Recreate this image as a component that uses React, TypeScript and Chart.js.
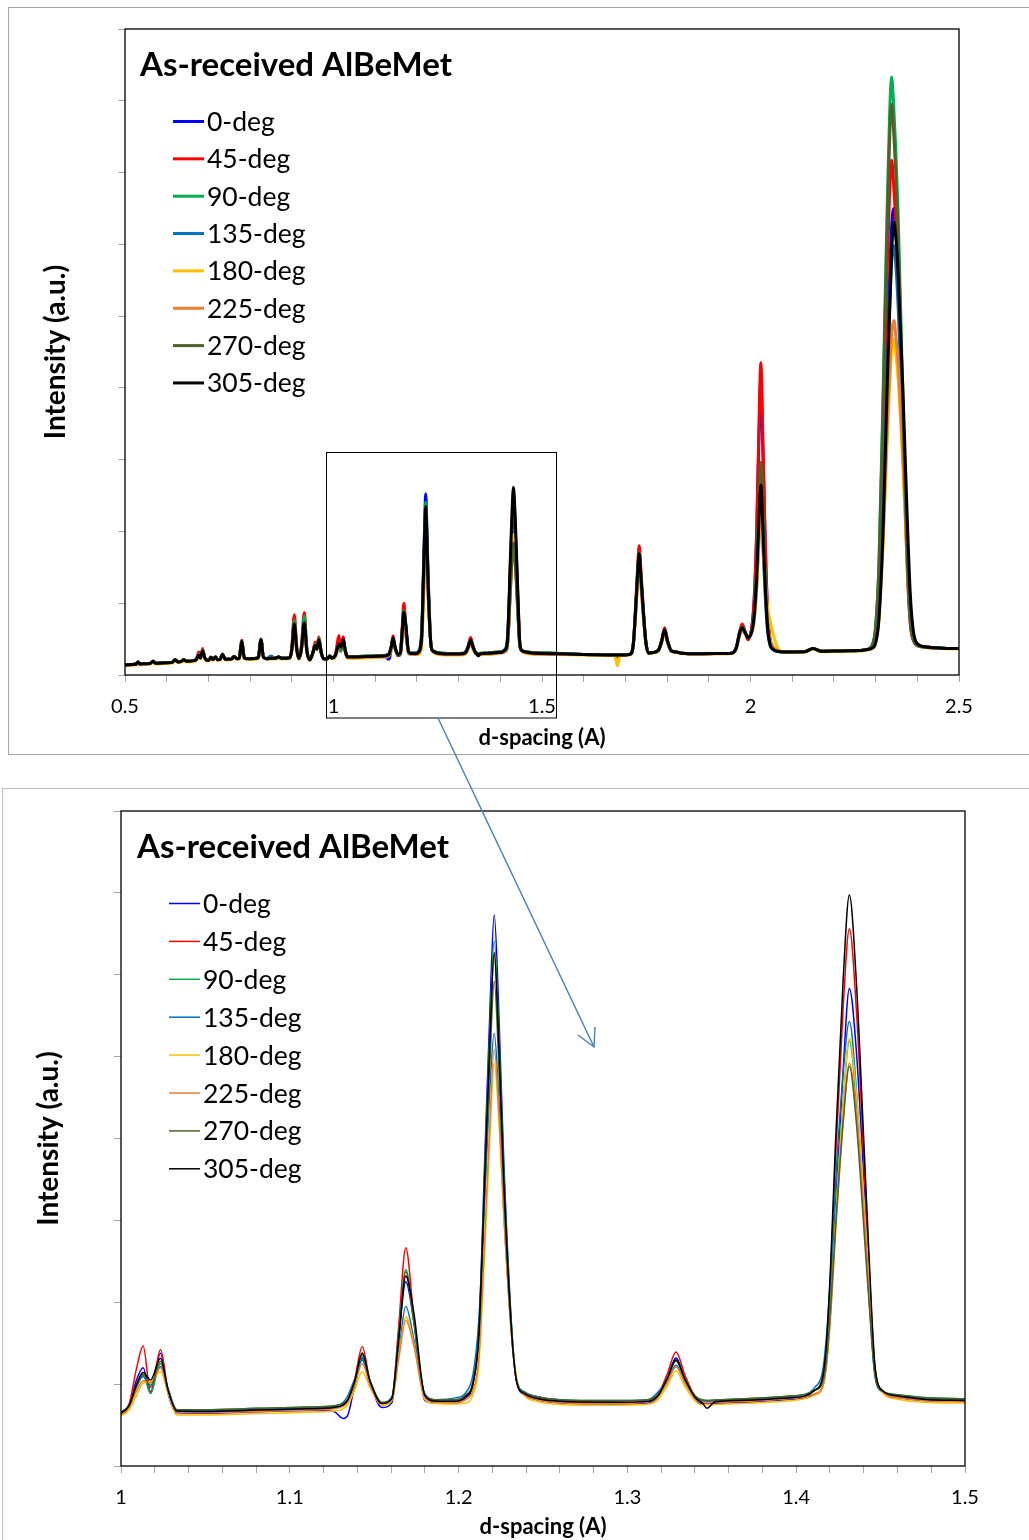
import React, { useEffect, useRef } from 'react';
import { Chart, registerables } from 'chart.js';

Chart.register(...registerables);

const seriesLabels = ['0-deg', '45-deg', '90-deg', '135-deg', '180-deg', '225-deg', '270-deg', '305-deg'];
const seriesColors = ['#0000FF', '#FF0000', '#00B050', '#0070C0', '#FFC000', '#ED7D31', '#4F6228', '#000000'];

// d-spacing (A) sample positions, shared by every series
const dSpacing = [
  0.500, 0.520, 0.526, 0.531, 0.536, 0.552, 0.560, 0.567, 0.574, 0.600, 0.613, 0.620, 0.627, 0.634, 0.641, 0.648, 0.665, 0.671,
  0.677, 0.681, 0.686, 0.691, 0.697, 0.702, 0.706, 0.711, 0.717, 0.722, 0.728, 0.734, 0.740, 0.755, 0.762, 0.768, 0.774,
  0.780, 0.786, 0.795, 0.815, 0.820, 0.826, 0.832, 0.840, 0.850, 0.860, 0.868, 0.876, 0.895,
  0.900, 0.906, 0.912, 0.917, 0.923, 0.930, 0.936, 0.943, 0.950, 0.956, 0.960, 0.965, 0.971, 0.977, 0.985, 0.991, 0.996,
  1.000, 1.005, 1.009, 1.0131, 1.0175, 1.0234, 1.028, 1.033, 1.050, 1.080, 1.110, 1.126,
  1.1317, 1.1345, 1.1385, 1.1429, 1.1475, 1.1545, 1.1605, 1.1645, 1.1687, 1.1735, 1.180, 1.186, 1.198,
  1.204, 1.2085, 1.212, 1.2155, 1.2185, 1.2211, 1.224, 1.2267, 1.2315, 1.2345, 1.239, 1.246, 1.260, 1.290,
  1.312, 1.318, 1.3235, 1.3288, 1.334, 1.340, 1.3445, 1.3471, 1.352, 1.375, 1.395,
  1.405, 1.411, 1.4155, 1.4178, 1.4205, 1.4232, 1.4278, 1.4315, 1.4356, 1.4402, 1.4432, 1.4465, 1.451, 1.460, 1.475, 1.500,
  1.530, 1.600, 1.660, 1.674, 1.681, 1.687, 1.700,
  1.712, 1.719, 1.725, 1.7295, 1.733, 1.7365, 1.742, 1.749, 1.756, 1.765, 1.779, 1.787, 1.794, 1.801, 1.810, 1.822, 1.835, 1.880, 1.940,
  1.955, 1.966, 1.973, 1.980, 1.987, 1.994, 2.004, 2.009, 2.0145, 2.0195, 2.0248, 2.030, 2.0355, 2.041, 2.047, 2.055, 2.065,
  2.080, 2.130, 2.150, 2.170, 2.220, 2.270, 2.280,
  2.292, 2.300, 2.308, 2.318, 2.328, 2.3385, 2.344, 2.348, 2.354, 2.365, 2.375, 2.383, 2.392, 2.405, 2.420, 2.460, 2.500,
];

const deg0 = [
  700, 740, 750, 900, 770, 790, 800, 950, 820, 860, 880, 1060, 910, 930, 1060, 950, 1000, 1080,
  1350, 1180, 1650, 1220, 1020, 1060, 1230, 1080, 1260, 1070, 1090, 1450, 1100, 1110, 1290, 1130, 1180,
  2350, 1200, 1130, 1160, 1240, 2450, 1240, 1140, 1300, 1160, 1260, 1160, 1200,
  1750, 3500, 1750, 1150, 1800, 3600, 1700, 1060, 1500, 2050, 1800, 2450, 1500, 1120, 1130, 1320, 1180,
  1180, 1380, 1950, 2250, 1660, 2580, 1650, 1220, 1210, 1240, 1270, 1250,
  1090, 1180, 1850, 2460, 1900, 1340, 1450, 2900, 4220, 3300, 1500, 1440, 1440,
  1550, 1890, 3120, 7030, 10380, 12620, 10170, 7040, 3130, 1910, 1630, 1520, 1440, 1420,
  1440, 1580, 2000, 2480, 2000, 1545, 1420, 1420, 1430, 1470, 1520,
  1560, 1635, 1795, 2310, 3716, 5873, 9060, 10935, 9523, 6510, 4345, 2273, 1708, 1567, 1500, 1480,
  1460, 1430, 1400, 1390, 1250, 1390, 1400,
  1450, 2135, 4738, 7067, 8300, 7067, 4738, 2272, 1518, 1560, 1714, 2330, 3100, 2330, 1683, 1600, 1520, 1480, 1500,
  1520, 1900, 2800, 3400, 2950, 2550, 3495, 5285, 9402, 15488, 20500, 15222, 8813, 4289, 2404, 1839, 1650,
  1600, 1620, 1850, 1650, 1680, 1720, 1780,
  1903, 2456, 4852, 12225, 22670, 31271, 32500, 31276, 27910, 18730, 9550, 4654, 2573, 2053, 1950, 1870, 1850,
];

const deg45 = [
  700, 740, 750, 900, 770, 790, 800, 950, 820, 860, 880, 1060, 910, 930, 1060, 950, 1000, 1080,
  1600, 1180, 1850, 1220, 1020, 1060, 1230, 1080, 1260, 1070, 1090, 1450, 1100, 1110, 1290, 1130, 1180,
  2420, 1200, 1130, 1160, 1240, 2500, 1240, 1140, 1170, 1160, 1260, 1160, 1200,
  1950, 4200, 1950, 1150, 2050, 4350, 1900, 1060, 1500, 2300, 2000, 2650, 1500, 1120, 1130, 1320, 1180,
  1210, 1450, 2200, 2750, 1700, 2660, 1700, 1250, 1250, 1280, 1310, 1340,
  1400, 1520, 2000, 2730, 1950, 1400, 1550, 3200, 5000, 3400, 1600, 1480, 1480,
  1580, 1890, 3015, 6595, 9665, 11710, 9460, 6605, 3030, 1910, 1650, 1550, 1480, 1450,
  1480, 1630, 2095, 2610, 2090, 1600, 1460, 1460, 1470, 1510, 1560,
  1600, 1728, 1975, 2670, 4490, 6950, 10485, 12305, 10478, 6932, 4569, 2312, 1721, 1603, 1540, 1520,
  1490, 1430, 1400, 1390, 1390, 1390, 1400,
  1450, 2205, 5074, 7641, 9000, 7641, 5074, 2356, 1525, 1560, 1734, 2430, 3300, 2430, 1699, 1600, 1520, 1480, 1500,
  1520, 1900, 2950, 3550, 3050, 2450, 3558, 5473, 9877, 16388, 21750, 16122, 9288, 4464, 2454, 1851, 1650,
  1600, 1620, 1850, 1650, 1680, 1720, 1780,
  2053, 3143, 6892, 17116, 28362, 35860, 33822, 31785, 27710, 17182, 8013, 3598, 2308, 2002, 1950, 1870, 1850,
];

const deg90 = [
  700, 740, 750, 900, 770, 790, 800, 950, 820, 860, 880, 1060, 910, 930, 1060, 950, 1000, 1080,
  1450, 1180, 1750, 1220, 1020, 1060, 1230, 1080, 1260, 1070, 1090, 1450, 1100, 1110, 1290, 1130, 1180,
  2350, 1200, 1130, 1160, 1240, 2450, 1240, 1140, 1170, 1160, 1260, 1160, 1200,
  1800, 3800, 1800, 1150, 1900, 4100, 1800, 1060, 1500, 2150, 1850, 2550, 1500, 1120, 1130, 1320, 1180,
  1240, 1400, 1800, 2080, 1660, 2350, 1750, 1290, 1290, 1320, 1350, 1380,
  1430, 1540, 1950, 2500, 1950, 1440, 1560, 3000, 4500, 3300, 1620, 1520, 1520,
  1625, 1940, 3095, 6775, 9930, 12030, 9720, 6785, 3115, 1960, 1700, 1590, 1520, 1500,
  1520, 1635, 1995, 2400, 1995, 1610, 1510, 1500, 1510, 1550, 1600,
  1640, 1737, 1923, 2449, 3823, 5683, 8351, 9725, 8344, 5663, 3875, 2169, 1722, 1633, 1570, 1540,
  1510, 1430, 1400, 1390, 1390, 1390, 1400,
  1450, 2155, 4834, 7231, 8500, 7231, 4834, 2296, 1520, 1560, 1719, 2355, 3150, 2355, 1687, 1600, 1520, 1480, 1500,
  1520, 1900, 2800, 3350, 2950, 2600, 3160, 4280, 6856, 10664, 13800, 10398, 6267, 3351, 2136, 1772, 1650,
  1600, 1620, 1850, 1650, 1680, 1720, 1780,
  2099, 3375, 7760, 19722, 32879, 41650, 39265, 36880, 32110, 19788, 9055, 3888, 2377, 2019, 1950, 1870, 1850,
];

const deg135 = [
  700, 740, 750, 900, 770, 790, 800, 950, 820, 860, 880, 1060, 910, 930, 1060, 950, 1000, 1080,
  1380, 1180, 1680, 1220, 1020, 1060, 1230, 1080, 1260, 1070, 1090, 1450, 1100, 1110, 1290, 1130, 1180,
  2350, 1200, 1130, 1160, 1240, 2450, 1240, 1140, 1300, 1160, 1260, 1160, 1200,
  1700, 3400, 1700, 1150, 1750, 3500, 1650, 1060, 1500, 2000, 1780, 2400, 1500, 1120, 1130, 1320, 1180,
  1230, 1400, 1800, 2050, 1850, 2280, 1750, 1280, 1270, 1300, 1330, 1360,
  1460, 1620, 2000, 2420, 1950, 1450, 1580, 2600, 3650, 2900, 1650, 1520, 1560,
  1670, 2090, 3350, 6125, 8650, 9910, 8230, 5880, 2945, 1940, 1690, 1590, 1510, 1490,
  1510, 1690, 1955, 2310, 1935, 1580, 1500, 1490, 1500, 1540, 1590,
  1630, 1801, 2143, 2913, 4452, 6418, 8983, 10180, 8632, 5708, 3816, 2096, 1700, 1614, 1550, 1520,
  1500, 1430, 1400, 1390, 1390, 1390, 1400,
  1450, 2105, 4594, 6821, 8000, 6821, 4594, 2236, 1515, 1560, 1709, 2305, 3050, 2305, 1679, 1600, 1520, 1480, 1500,
  1520, 1900, 2750, 3250, 2900, 2650, 3045, 3935, 5982, 9008, 11500, 8742, 5393, 3029, 2044, 1749, 1650,
  1600, 1620, 1850, 1650, 1680, 1720, 1780,
  1892, 2399, 4592, 11341, 20902, 28775, 29900, 28780, 25700, 17300, 8900, 4420, 2516, 2040, 1950, 1870, 1850,
];

const deg180 = [
  650, 690, 700, 850, 720, 740, 750, 900, 770, 810, 830, 1010, 860, 880, 1010, 900, 950, 1030,
  1330, 1130, 1630, 1170, 970, 1010, 1180, 1030, 1210, 1020, 1040, 1400, 1050, 1060, 1240, 1080, 1130,
  2300, 1150, 1080, 1110, 1190, 2400, 1190, 1090, 1120, 1110, 1210, 1110, 1150,
  1650, 3300, 1650, 1100, 1700, 3400, 1600, 1010, 1450, 1950, 1750, 2350, 1450, 1070, 1080, 1270, 1130,
  1150, 1300, 1600, 1900, 1930, 2160, 1650, 1170, 1170, 1200, 1230, 1260,
  1310, 1420, 1750, 2160, 1800, 1400, 1500, 2500, 3420, 2800, 1520, 1430, 1420,
  1440, 1635, 2340, 4920, 7500, 9220, 7815, 5790, 2980, 1965, 1615, 1480, 1410, 1390,
  1415, 1515, 1825, 2175, 1825, 1495, 1400, 1400, 1410, 1440, 1490,
  1540, 1623, 1788, 2283, 3604, 5502, 8309, 9795, 8548, 6053, 4224, 2312, 1688, 1530, 1460, 1440,
  1420, 1390, 1360, 1350, 650, 1350, 1360,
  1420, 2065, 4402, 6493, 7600, 6493, 4402, 2188, 1512, 1530, 1699, 2255, 2950, 2255, 1671, 1570, 1490, 1450, 1470,
  1490, 1850, 2650, 3100, 2850, 2750, 3040, 3920, 5944, 8936, 11400, 9200, 6600, 4700, 3800, 2800, 1900,
  1570, 1590, 1820, 1620, 1650, 1690, 1750,
  1866, 2256, 3942, 9131, 16482, 22535, 23400, 22540, 20605, 14800, 8350, 4480, 2653, 2072, 1920, 1840, 1820,
];

const deg225 = [
  700, 740, 750, 900, 770, 790, 800, 950, 820, 860, 880, 1060, 910, 930, 1060, 950, 1000, 1080,
  1380, 1180, 1680, 1220, 1020, 1060, 1230, 1080, 1260, 1070, 1090, 1450, 1100, 1110, 1290, 1130, 1180,
  2350, 1200, 1130, 1160, 1240, 2450, 1240, 1140, 1170, 1160, 1260, 1160, 1200,
  1700, 3400, 1700, 1150, 1750, 3450, 1650, 1060, 1500, 2000, 1780, 2400, 1500, 1120, 1130, 1320, 1180,
  1190, 1350, 1700, 1950, 1900, 2250, 1700, 1230, 1220, 1250, 1280, 1310,
  1370, 1480, 1850, 2350, 1850, 1430, 1520, 2450, 3340, 2750, 1560, 1470, 1460,
  1515, 1735, 2500, 5250, 7840, 9540, 8005, 5830, 2925, 1955, 1630, 1525, 1450, 1430,
  1465, 1575, 1900, 2270, 1900, 1550, 1450, 1450, 1460, 1490, 1540,
  1580, 1656, 1809, 2268, 3491, 5250, 7849, 9225, 8069, 5758, 4063, 2291, 1713, 1566, 1500, 1470,
  1450, 1430, 1400, 1390, 1390, 1390, 1400,
  1450, 2085, 4498, 6657, 7800, 6657, 4498, 2212, 1514, 1560, 1704, 2280, 3000, 2280, 1675, 1600, 1520, 1480, 1500,
  1520, 1900, 2700, 3200, 2900, 2700, 3070, 4010, 6172, 9368, 12000, 9300, 6000, 3700, 2500, 1950, 1700,
  1600, 1620, 1850, 1650, 1680, 1720, 1780,
  1872, 2284, 4072, 9573, 17366, 23783, 24700, 23788, 21736, 15580, 8740, 4636, 2698, 2082, 1950, 1870, 1850,
];

const deg270 = [
  700, 740, 750, 900, 770, 790, 800, 950, 820, 860, 880, 1060, 910, 930, 1060, 950, 1000, 1080,
  1400, 1180, 1700, 1220, 1020, 1060, 1230, 1080, 1260, 1070, 1090, 1450, 1100, 1110, 1290, 1130, 1180,
  2350, 1200, 1130, 1160, 1240, 2450, 1240, 1140, 1170, 1160, 1260, 1160, 1200,
  1750, 3600, 1750, 1150, 1800, 3700, 1700, 1060, 1500, 2050, 1800, 2450, 1500, 1120, 1130, 1320, 1180,
  1240, 1400, 1800, 2100, 1800, 2400, 1750, 1290, 1290, 1320, 1350, 1380,
  1430, 1540, 1950, 2550, 1950, 1460, 1560, 3000, 4450, 3300, 1620, 1520, 1520,
  1615, 1905, 2955, 6310, 9185, 11100, 8995, 6320, 2975, 1920, 1685, 1590, 1520, 1500,
  1520, 1640, 2005, 2420, 2005, 1610, 1510, 1500, 1510, 1550, 1600,
  1640, 1730, 1903, 2392, 3669, 5398, 7877, 9155, 7871, 5378, 3715, 2129, 1713, 1630, 1570, 1540,
  1510, 1430, 1400, 1390, 1390, 1390, 1400,
  1450, 2155, 4834, 7231, 8500, 7231, 4834, 2296, 1520, 1560, 1719, 2355, 3150, 2355, 1687, 1600, 1520, 1480, 1500,
  1520, 1900, 2800, 3350, 2950, 2650, 3210, 4430, 7236, 11384, 14800, 11118, 6647, 3491, 2176, 1782, 1650,
  1600, 1620, 1850, 1650, 1680, 1720, 1780,
  2084, 3300, 7479, 18876, 31412, 39770, 37498, 35226, 30681, 18942, 8717, 3794, 2354, 2014, 1950, 1870, 1850,
];

const deg305 = [
  700, 740, 750, 900, 770, 790, 800, 950, 820, 860, 880, 1060, 910, 930, 1060, 950, 1000, 1080,
  1380, 1180, 1680, 1220, 1020, 1060, 1230, 1080, 1260, 1070, 1090, 1450, 1100, 1110, 1290, 1130, 1180,
  2350, 1200, 1130, 1160, 1240, 2450, 1240, 1140, 1170, 1160, 1260, 1160, 1200,
  1750, 3550, 1750, 1150, 1800, 3620, 1700, 1060, 1500, 2050, 1800, 2450, 1500, 1120, 1130, 1320, 1180,
  1210, 1400, 1850, 2140, 1970, 2465, 1720, 1260, 1250, 1280, 1310, 1340,
  1400, 1520, 1950, 2590, 1950, 1430, 1550, 2900, 4350, 3500, 1620, 1490, 1480,
  1585, 1890, 3020, 6620, 9705, 11760, 9505, 6630, 3040, 1910, 1655, 1550, 1480, 1460,
  1480, 1605, 1995, 2435, 1995, 1575, 1440, 1320, 1470, 1510, 1560,
  1600, 1738, 2002, 2748, 4698, 7338, 11124, 13075, 11117, 7318, 4784, 2366, 1733, 1606, 1530, 1500,
  1480, 1430, 1400, 1390, 1390, 1390, 1400,
  1450, 2150, 4810, 7190, 8450, 7190, 4810, 2290, 1520, 1560, 1719, 2355, 3150, 2355, 1687, 1600, 1520, 1480, 1500,
  1520, 1900, 2800, 3300, 2950, 2600, 3132, 4196, 6643, 10261, 13240, 9995, 6054, 3273, 2114, 1766, 1650,
  1600, 1620, 1850, 1650, 1680, 1720, 1780,
  1869, 2227, 3864, 10116, 20237, 29466, 31550, 30660, 27992, 20283, 11685, 5755, 2790, 2078, 1950, 1870, 1850,
];

const intensitySeries = [deg0, deg45, deg90, deg135, deg180, deg225, deg270, deg305];

const FONT = 'Lato, "Open Sans", sans-serif';

// frame round the plot area, the in-plot title and the legend
const panelDecor = {
  id: 'panelDecor',
  afterDatasetsDraw(chart: any, _args: any, opts: any) {
    const { ctx, chartArea: a } = chart;
    ctx.save();
    ctx.strokeStyle = '#000';
    ctx.lineWidth = 1.3;
    ctx.strokeRect(a.left, a.top, a.right - a.left, a.bottom - a.top);

    ctx.fillStyle = '#000';
    ctx.font = `bold 33px ${FONT}`;
    ctx.textBaseline = 'alphabetic';
    ctx.fillText(opts.title, a.left + opts.titleX, a.top + 47);

    ctx.font = `26.5px ${FONT}`;
    ctx.textBaseline = 'middle';
    chart.data.datasets.forEach((ds: any, i: number) => {
      const y = a.top + 92.5 + i * opts.rowGap;
      ctx.strokeStyle = ds.borderColor;
      ctx.lineWidth = opts.keyWidth;
      ctx.beginPath();
      ctx.moveTo(a.left + 48, y);
      ctx.lineTo(a.left + 79, y);
      ctx.stroke();
      ctx.fillText(ds.label, a.left + 82, y + 1);
    });
    ctx.restore();
  },
};

interface PanelProps {
  top: number;
  xMin: number;
  xMax: number;
  xStep: number;
  labelEvery: number;
  yMax: number;
  yStep: number;
  lineWidth: number;
  padTop: number;
  padRight: number;
  yWidth: number;
  xHeight: number;
  xTitlePad: number;
  yTitlePad: number;
  titleX: number;
  rowGap: number;
}

const DiffractionPanel: React.FC<PanelProps> = (p) => {
  const canvasRef = useRef<HTMLCanvasElement>(null);

  useEffect(() => {
    if (!canvasRef.current) return;
    const ctx = canvasRef.current.getContext('2d');
    if (!ctx) return;

    const datasets = intensitySeries.map((values, i) => ({
      label: seriesLabels[i],
      data: dSpacing.map((d, j) => ({ x: d, y: values[j] })),
      borderColor: seriesColors[i],
      backgroundColor: seriesColors[i],
      borderWidth: p.lineWidth,
      pointRadius: 0,
      cubicInterpolationMode: 'monotone' as const,
      fill: false,
      order: seriesLabels.length - 1 - i,
    }));

    const gridOpts = { drawOnChartArea: false, drawTicks: true, tickLength: 7, color: '#a6a6a6', lineWidth: 1 };

    const chart = new Chart(ctx, {
      type: 'line',
      data: { datasets },
      plugins: [panelDecor],
      options: {
        animation: false,
        responsive: false,
        events: [],
        layout: { padding: { left: 0, top: p.padTop, right: p.padRight, bottom: 0 } },
        scales: {
          x: {
            type: 'linear',
            min: p.xMin,
            max: p.xMax,
            afterFit: (s: any) => { s.height = p.xHeight; },
            ticks: {
              stepSize: p.xStep,
              autoSkip: false,
              maxRotation: 0,
              padding: 13,
              color: '#000',
              font: { family: FONT, size: 20 },
              callback: (v: any) => {
                const n = Number(v) / p.labelEvery;
                if (Math.abs(n - Math.round(n)) > 1e-6) return '';
                return String(Math.round(Math.round(n) * p.labelEvery * 10) / 10);
              },
            },
            grid: gridOpts,
            border: { display: false },
            title: {
              display: true,
              text: 'd-spacing (A)',
              color: '#000',
              font: { family: FONT, size: 22, weight: 'bold' },
              padding: { top: 0, bottom: p.xTitlePad },
            },
          },
          y: {
            min: 0,
            max: p.yMax,
            afterFit: (s: any) => { s.width = p.yWidth; },
            ticks: { display: false, stepSize: p.yStep, includeBounds: false },
            grid: gridOpts,
            border: { display: false },
            title: {
              display: true,
              text: 'Intensity (a.u.)',
              color: '#000',
              font: { family: FONT, size: 28, weight: 'bold' },
              padding: { top: p.yTitlePad, bottom: 0 },
            },
          },
        },
        plugins: {
          legend: { display: false },
          tooltip: { enabled: false },
          panelDecor: { title: 'As-received AlBeMet', titleX: p.titleX, rowGap: p.rowGap, keyWidth: p.lineWidth },
        } as any,
      },
    });

    return () => {
      chart.destroy();
    };
  }, []);

  return (
    <canvas
      ref={canvasRef}
      width={1029}
      height={760}
      style={{ position: 'absolute', left: 0, top: p.top, display: 'block' }}
    />
  );
};

export default function App() {
  return (
    <div style={{ position: 'absolute', left: 0, top: 0, width: 1029, height: 1540, overflow: 'hidden', background: '#fff' }}>
      <div style={{ position: 'absolute', left: 8, top: 7, width: 1040, height: 748, border: '1px solid #a6a6a6', boxSizing: 'border-box' }} />
      <div style={{ position: 'absolute', left: 2, top: 788, width: 1040, height: 800, border: '1px solid #c0c0c0', boxSizing: 'border-box' }} />
      <DiffractionPanel
        top={0} xMin={0.5} xMax={2.5} xStep={0.1} labelEvery={0.5}
        yMax={45000} yStep={5000} lineWidth={3}
        padTop={29} padRight={70} yWidth={125} xHeight={85}
        xTitlePad={9} yTitlePad={39} titleX={15} rowGap={37.35}
      />
      <DiffractionPanel
        top={780} xMin={1} xMax={1.5} xStep={0.02} labelEvery={0.1}
        yMax={15000} yStep={2000} lineWidth={1.5}
        padTop={31} padRight={64} yWidth={121} xHeight={74}
        xTitlePad={0} yTitlePad={32} titleX={16} rowGap={37.9}
      />
      <svg width={1029} height={1540} style={{ position: 'absolute', left: 0, top: 0, pointerEvents: 'none' }}>
        <rect x={326.5} y={452.5} width={230} height={265.5} fill="none" stroke="#000" strokeWidth={1} />
        <line x1={438} y1={718} x2={594} y2={1047} stroke="#4A7EBB" strokeWidth={1.4} />
        <polyline points="578,1035 594,1047 595,1027" fill="none" stroke="#4A7EBB" strokeWidth={1.4} />
      </svg>
    </div>
  );
}
